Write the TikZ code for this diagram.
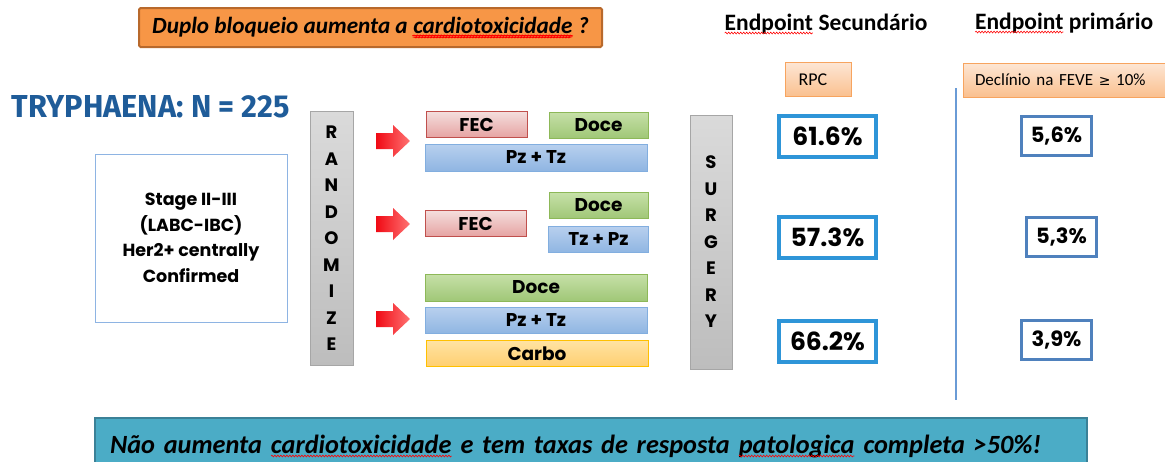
\documentclass[tikz,border=0pt]{standalone}
\usepackage{fontspec}
\usepackage{graphicx}
\setmainfont{Carlito}
\newfontfamily\gothic{Poppins}
\newfontfamily\headf{Fira Sans}
\usetikzlibrary{decorations.pathmorphing}
\newcommand\rw[2]{\tikz[baseline=(w.base)]{\node[draw=none, fill=none, text width=, minimum width=0pt, minimum height=0pt, inner sep=0pt, outer sep=0pt, rounded corners=0pt, font=#1] (w) {#2};
  \draw[red, line width=0.6pt, decorate, decoration={snake, amplitude=0.9pt, segment length=3pt}] ([yshift=-2.8pt]w.base west) -- ([yshift=-2.8pt]w.base east);}}
\newcommand\titfont{\bfseries\itshape\fontsize{23.2}{26}\selectfont}
\newcommand\hdfont{\bfseries\fontsize{23.5}{26}\selectfont}
\newcommand\botfont{\bfseries\itshape\fontsize{26.3}{29}\selectfont}
\definecolor{fecT}{HTML}{F4DEDD}
\definecolor{fecB}{HTML}{E6A3A2}
\definecolor{fecD}{HTML}{C0504D}
\definecolor{doT}{HTML}{C6E0A8}
\definecolor{doB}{HTML}{A0C777}
\definecolor{doD}{HTML}{8DB858}
\definecolor{blT}{HTML}{B8D0EE}
\definecolor{blB}{HTML}{8FB5E2}
\definecolor{blD}{HTML}{82AEDF}
\definecolor{caT}{HTML}{FFE3A3}
\definecolor{caB}{HTML}{FFCF70}
\definecolor{caD}{HTML}{FFC000}
\definecolor{grT}{HTML}{DADADA}
\definecolor{grB}{HTML}{BDBDBD}
\definecolor{grD}{HTML}{A6A6A6}
\definecolor{orT}{HTML}{FDE6D4}
\definecolor{orB}{HTML}{FAC08F}
\definecolor{orD}{HTML}{F7A45F}
\definecolor{titF}{HTML}{F79646}
\definecolor{titD}{HTML}{B8692C}
\definecolor{pctD}{HTML}{2E95D8}
\definecolor{prD}{HTML}{4F81BD}
\definecolor{tryC}{HTML}{1F5C99}
\definecolor{patD}{HTML}{8EB4E3}
\definecolor{vlin}{HTML}{6A9BD6}
\definecolor{botF}{HTML}{4BACC6}
\definecolor{botD}{HTML}{3B8197}
\definecolor{arL}{HTML}{F00A14}
\definecolor{arR}{HTML}{FF7272}
\begin{document}
\begin{tikzpicture}[x=1pt,y=-1pt,
  cbox/.style={line width=1pt, inner sep=0pt, text=black, font=\gothic\bfseries\fontsize{18.5}{20}\selectfont},
  fecbox/.style={cbox, draw=fecD, top color=fecT, bottom color=fecB},
  docebox/.style={cbox, draw=doD, top color=doT, bottom color=doB},
  bluebox/.style={cbox, draw=blD, top color=blT, bottom color=blB},
  carbobox/.style={cbox, draw=caD, top color=caT, bottom color=caB},
  barbox/.style={line width=1pt, draw=grD, top color=grT, bottom color=grB, inner sep=0pt, align=center, font=\gothic\bfseries\fontsize{18}{26.5}\selectfont},
  pctbox/.style={draw=pctD, line width=4pt, fill=white, inner sep=0pt, minimum width=97, minimum height=41, font=\gothic\bfseries\fontsize{25}{27}\selectfont},
  primbox/.style={draw=prD, line width=3pt, fill=white, inner sep=0pt, minimum width=70, minimum height=39, font=\gothic\bfseries\fontsize{21}{23}\selectfont},
  headtxt/.style={inner sep=0pt, font=\hdfont},
  orbox/.style={draw=orD, line width=1pt, top color=orT, bottom color=orB, inner ysep=0pt, minimum height=34, font=\fontsize{17}{19}\selectfont, align=left}
]
\useasboundingbox (0,0) rectangle (1165,461);
\fill[white] (0,0) rectangle (1165,461);

% title
\node[draw=titD, line width=2pt, fill=titF, rounded corners=1.5pt, minimum width=463, minimum height=39, inner sep=0pt,
      font=\titfont] (title) at (370.5,27.5)
      {Duplo bloqueio aumenta a \rw{\titfont}{cardiotoxicidade} ?};

% headings
\node[headtxt] (endsec) at (826,24) {\rw{\hdfont}{Endpoint} Secundário};
\node[headtxt] (endprim) at (1064,23) {\rw{\hdfont}{Endpoint} primário};
\node[orbox, minimum width=66, text width=40, inner xsep=13pt, font=\fontsize{18}{20}\selectfont] (rpc) at (818.5,79.5) {RPC};
\node[orbox, minimum width=212, text width=188, inner xsep=12pt] (feve) at (1069,80) {Declínio na FEVE {\fontspec{DejaVu Sans}\fontsize{14}{16}\selectfont ≥} 10\%};

% vertical separator
\coordinate (vt) at (956,88);
\coordinate (vb) at (956,400);
\draw[vlin, line width=1.3pt] (vt) -- (vb);

% trial name
\node[inner sep=0pt, text=tryC, font=\headf\bfseries\fontsize{30}{32}\selectfont] (tryph) at (151,107) {\resizebox{278pt}{22pt}{TRYPHAENA: N = 225}};

% patients
\node[draw=patD, line width=1pt, minimum width=192, minimum height=168, inner sep=0pt, align=center,
      font=\gothic\bfseries\fontsize{17.5}{25.5}\selectfont] (pat) at (191,238)
      {Stage II-III\\(LABC-IBC)\\Her2+ centrally\\Confirmed};

% randomize bar
\node[barbox, minimum width=43, minimum height=254] (rand) at (331.5,238.5) {R\\A\\N\\D\\O\\M\\I\\Z\\E};

% arrows
\foreach \cy in {141,224,319}{
  \shade[left color=arL, right color=arR] (376,\cy-8) -- (393,\cy-8) -- (393,\cy-16) -- (410,\cy) -- (393,\cy+16) -- (393,\cy+8) -- (376,\cy+8) -- cycle;
}

% arm 1
\node[fecbox, minimum width=101, minimum height=26] (fec1) at (476.5,124.5) {FEC};
\node[docebox, minimum width=99, minimum height=26] (doce1) at (598.5,125) {Doce};
\node[bluebox, minimum width=222, minimum height=27] (pztz1) at (536,157.5) {Pz + Tz};
% arm 2
\node[docebox, minimum width=99, minimum height=26] (doce2) at (598.5,205.5) {Doce};
\node[fecbox, minimum width=101, minimum height=26] (fec2) at (475.5,223.5) {FEC};
\node[bluebox, minimum width=100, minimum height=26] (tzpz2) at (598.5,239.5) {Tz + Pz};
% arm 3
\node[docebox, minimum width=222, minimum height=27] (doce3) at (536,287.5) {Doce};
\node[bluebox, minimum width=222, minimum height=26] (pztz3) at (536,320.5) {Pz + Tz};
\node[carbobox, minimum width=222, minimum height=26] (carbo) at (537,353.5) {Carbo};

% surgery bar
\node[barbox, minimum width=42, minimum height=254] (surg) at (711,242) {S\\U\\R\\G\\E\\R\\Y};

% pCR results
\node[pctbox] (p1) at (827.5,136.5) {61.6\%};
\node[pctbox] (p2) at (827.5,237.5) {57.3\%};
\node[pctbox] (p3) at (827.5,341.5) {66.2\%};

% LVEF results
\node[primbox] (q1) at (1056.5,136) {5,6\%};
\node[primbox] (q2) at (1061.5,237) {5,3\%};
\node[primbox] (q3) at (1056.5,340) {3,9\%};

% conclusion
\node[draw=botD, line width=2pt, fill=botF, minimum width=992, minimum height=57, inner ysep=0pt, inner xsep=15pt,
      text width=962, align=left, font=\botfont] (concl) at (591,446.5)
      {\raisebox{5pt}{Não aumenta \rw{\botfont}{cardiotoxicidade} e tem taxas de resposta \rw{\botfont}{patologica} completa >50\%!}};
\end{tikzpicture}
\end{document}
